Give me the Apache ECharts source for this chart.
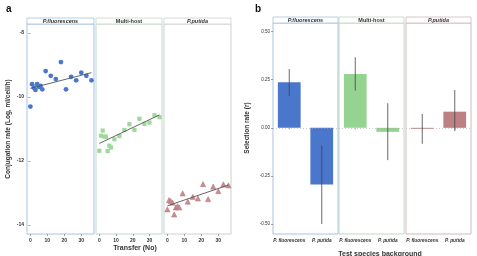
<!DOCTYPE html>
<html><head><meta charset="utf-8">
<script src="https://cdn.jsdelivr.net/npm/echarts@6/dist/echarts.min.js"></script>
<style>html,body{margin:0;padding:0;background:#fff}#c{width:477px;height:256px}</style>
</head><body><div id="c"></div>
<script>
// ---- Panel a data ----
const transfer = [0,1,2,3,4,5,6,7,9,12,15,18,21,24,27,30,33,36];
const fluoRate = [-10.30,-9.60,-9.71,-9.78,-9.60,-9.68,-9.65,-9.76,-9.19,-9.34,-9.44,-8.91,-9.76,-9.37,-9.48,-9.24,-9.34,-9.48];
const multiRate = [-11.68,-11.21,-11.05,-11.24,-11.24,-11.69,-11.52,-11.58,-11.32,-11.22,-11.03,-10.85,-11.03,-10.68,-10.84,-10.80,-10.57,-10.63];
const putidaRate = [-13.51,-13.22,-13.25,-13.30,-13.67,-13.45,-13.41,-13.45,-13.01,-13.27,-13.12,-13.17,-12.72,-13.19,-12.80,-12.94,-12.73,-12.76];
const trendX = [0,36];
const fluoTrend = [-9.73,-9.24];
const multiTrend = [-11.45,-10.56];
const putidaTrend = [-13.40,-12.75];
const rateTicks = [-14,-12,-10,-8];
const transferTicks = [0,10,20,30];
const panelNames = ['P.fluorescens','Multi-host','P.putida'];

// ---- Panel b data ----
const testSpecies = ['P. fluorescens','P. putida'];
const fluoSel = [0.237,-0.295];
const multiSel = [0.280,-0.021];
const putidaSel = [-0.005,0.084];
const fluoLow = [0.167,-0.500];
const fluoHigh = [0.306,-0.092];
const multiLow = [0.193,-0.168];
const multiHigh = [0.367,0.128];
const putidaLow = [-0.083,-0.017];
const putidaHigh = [0.072,0.197];
const selTicks = [-0.5,-0.25,0,0.25,0.5];

const colors = ['#4a76cc','#94d390','#bd8083'];
const borderCols = ['#a8c2e2','#bcd7c4','#d2b8ba'];
const borderColsA = ['#a8c2e2','#c4d8cc','#cfcfcf'];

const aGrids = [{left:27,width:67},{left:96,width:66},{left:164,width:67}];
const aTop = 24, aH = 210;
const bGrids = [{left:273,width:65},{left:339,width:65},{left:406,width:65}];
const bTop = 23, bH = 211;

const grids = [], xAxes = [], yAxes = [], series = [], graphics = [];
const rates = [fluoRate, multiRate, putidaRate];
const trends = [fluoTrend, multiTrend, putidaTrend];
const symbols = ['circle','rect','triangle'];
const symSizes = [4.8,4.2,5.2];
const pointCols = ['#4a76cc','#9fd89b','#c98f93'];

aGrids.forEach((g,i)=>{
  grids.push({left:g.left, top:aTop, width:g.width, height:aH, show:true, borderColor:borderColsA[i], borderWidth:1, backgroundColor:'#fff'});
  xAxes.push({type:'value', gridIndex:i, min:-2, max:37.5,
    axisLine:{show:false}, splitLine:{show:false},
    axisTick:{show:true, length:2, lineStyle:{color:'#666',width:0.6}, customValues:transferTicks},
    axisLabel:{fontSize:5, fontWeight:'bold', color:'#333', margin:4, customValues:transferTicks}});
  yAxes.push({type:'value', gridIndex:i, min:-14.28, max:-7.72,
    axisLine:{show:false}, splitLine:{show:false},
    axisTick:{show:i===0, length:2, lineStyle:{color:'#666',width:0.6}, customValues:rateTicks},
    axisLabel:{show:i===0, fontSize:5, fontWeight:'bold', color:'#333', margin:3, customValues:rateTicks}});
  series.push({type:'scatter', xAxisIndex:i, yAxisIndex:i, symbol:symbols[i], symbolSize:symSizes[i],
    itemStyle:{color:pointCols[i], opacity:1, borderColor: i===2?'#b07076':'transparent', borderWidth: i===2?0.5:0},
    data: transfer.map((t,k)=>[t, rates[i][k]]), z:3});
  series.push({type:'line', xAxisIndex:i, yAxisIndex:i, symbol:'none', silent:true,
    lineStyle:{color:'#555', width:0.9}, data: trendX.map((t,k)=>[t, trends[i][k]]), z:4});
  graphics.push({type:'rect', shape:{x:g.left, y:aTop-6, width:g.width, height:6}, style:{fill:'#fff', stroke:borderColsA[i], lineWidth:0.8}});
  graphics.push({type:'text', x:g.left+g.width/2, y:aTop-3, style:{text:panelNames[i], fontSize:5.5, fontWeight:'bold', fontStyle: i===1?'normal':'italic', fill:'#333', align:'center', verticalAlign:'middle', fontFamily:'Liberation Sans'}});
});

const sels = [fluoSel, multiSel, putidaSel];
const lows = [fluoLow, multiLow, putidaLow];
const highs = [fluoHigh, multiHigh, putidaHigh];
bGrids.forEach((g,j)=>{
  const i = j+3;
  grids.push({left:g.left, top:bTop, width:g.width, height:bH, show:true, borderColor:borderCols[j], borderWidth:1, backgroundColor:'#fff'});
  xAxes.push({type:'category', gridIndex:i, data:testSpecies,
    axisLine:{show:false}, axisTick:{show:true, alignWithLabel:true, length:2, lineStyle:{color:'#888',width:0.5}},
    axisLabel:{interval:0, fontSize:4.8, fontStyle:'italic', fontWeight:'bold', color:'#333', margin:4}});
  yAxes.push({type:'value', gridIndex:i, min:-0.552, max:0.545,
    axisLine:{show:false}, splitLine:{show:false},
    axisTick:{show:j===0, length:2, lineStyle:{color:'#666',width:0.6}, customValues:selTicks},
    axisLabel:{show:j===0, fontSize:4.5, color:'#333', margin:3, customValues:selTicks, formatter:v=>v.toFixed(2)}});
  series.push({type:'bar', xAxisIndex:i, yAxisIndex:i, barWidth:'70%', data:sels[j],
    itemStyle:{color:colors[j]}, z:2,
    markLine:{silent:true, symbol:'none', label:{show:false}, lineStyle:{color:'#aaa', type:[1,2], width:0.6}, data:[{yAxis:0}]}});
  series.push({type:'custom', xAxisIndex:i, yAxisIndex:i, z:5,
    data: testSpecies.map((s,k)=>[k, lows[j][k], highs[j][k]]),
    renderItem:(params, api)=>{
      const lo = api.coord([api.value(0), api.value(1)]);
      const hi = api.coord([api.value(0), api.value(2)]);
      return {type:'line', shape:{x1:lo[0], y1:lo[1], x2:hi[0], y2:hi[1]}, style:{stroke:'#444', lineWidth:0.8}};
    }});
  graphics.push({type:'rect', shape:{x:g.left, y:bTop-6, width:g.width, height:6}, style:{fill:'#fff', stroke:borderCols[j], lineWidth:0.8}});
  graphics.push({type:'text', x:g.left+g.width/2, y:bTop-3, style:{text:panelNames[j], fontSize:5.5, fontWeight:'bold', fontStyle: j===1?'normal':'italic', fill:'#333', align:'center', verticalAlign:'middle', fontFamily:'Liberation Sans'}});
});

// panel letters and axis titles
graphics.push({type:'text', x:6, y:4, style:{text:'a', fontSize:10, fontWeight:'bold', fill:'#111', fontFamily:'Liberation Sans'}});
graphics.push({type:'text', x:255, y:4, style:{text:'b', fontSize:10, fontWeight:'bold', fill:'#111', fontFamily:'Liberation Sans'}});
graphics.push({type:'text', x:8, y:129, rotation:Math.PI/2, style:{text:'Conjugation rate (Log, ml/cell/h)', fontSize:6.5, fontWeight:'bold', fill:'#333', align:'center', verticalAlign:'middle', fontFamily:'Liberation Sans'}});
graphics.push({type:'text', x:135, y:248, style:{text:'Transfer (No)', fontSize:7, fontWeight:'bold', fill:'#333', align:'center', verticalAlign:'middle', fontFamily:'Liberation Sans'}});
graphics.push({type:'text', x:247, y:128, rotation:Math.PI/2, style:{text:'Selection rate (r)', fontSize:6.5, fontWeight:'bold', fill:'#333', align:'center', verticalAlign:'middle', fontFamily:'Liberation Sans'}});
graphics.push({type:'text', x:380, y:254, style:{text:'Test species background', fontSize:7, fontWeight:'bold', fill:'#333', align:'center', verticalAlign:'middle', fontFamily:'Liberation Sans'}});

const chart = echarts.init(document.getElementById('c'), null, {renderer:'canvas'});
chart.setOption({
  animation:false,
  textStyle:{fontFamily:'Liberation Sans'},
  grid:grids, xAxis:xAxes, yAxis:yAxes, series:series, graphic:graphics
});
</script></body></html>
